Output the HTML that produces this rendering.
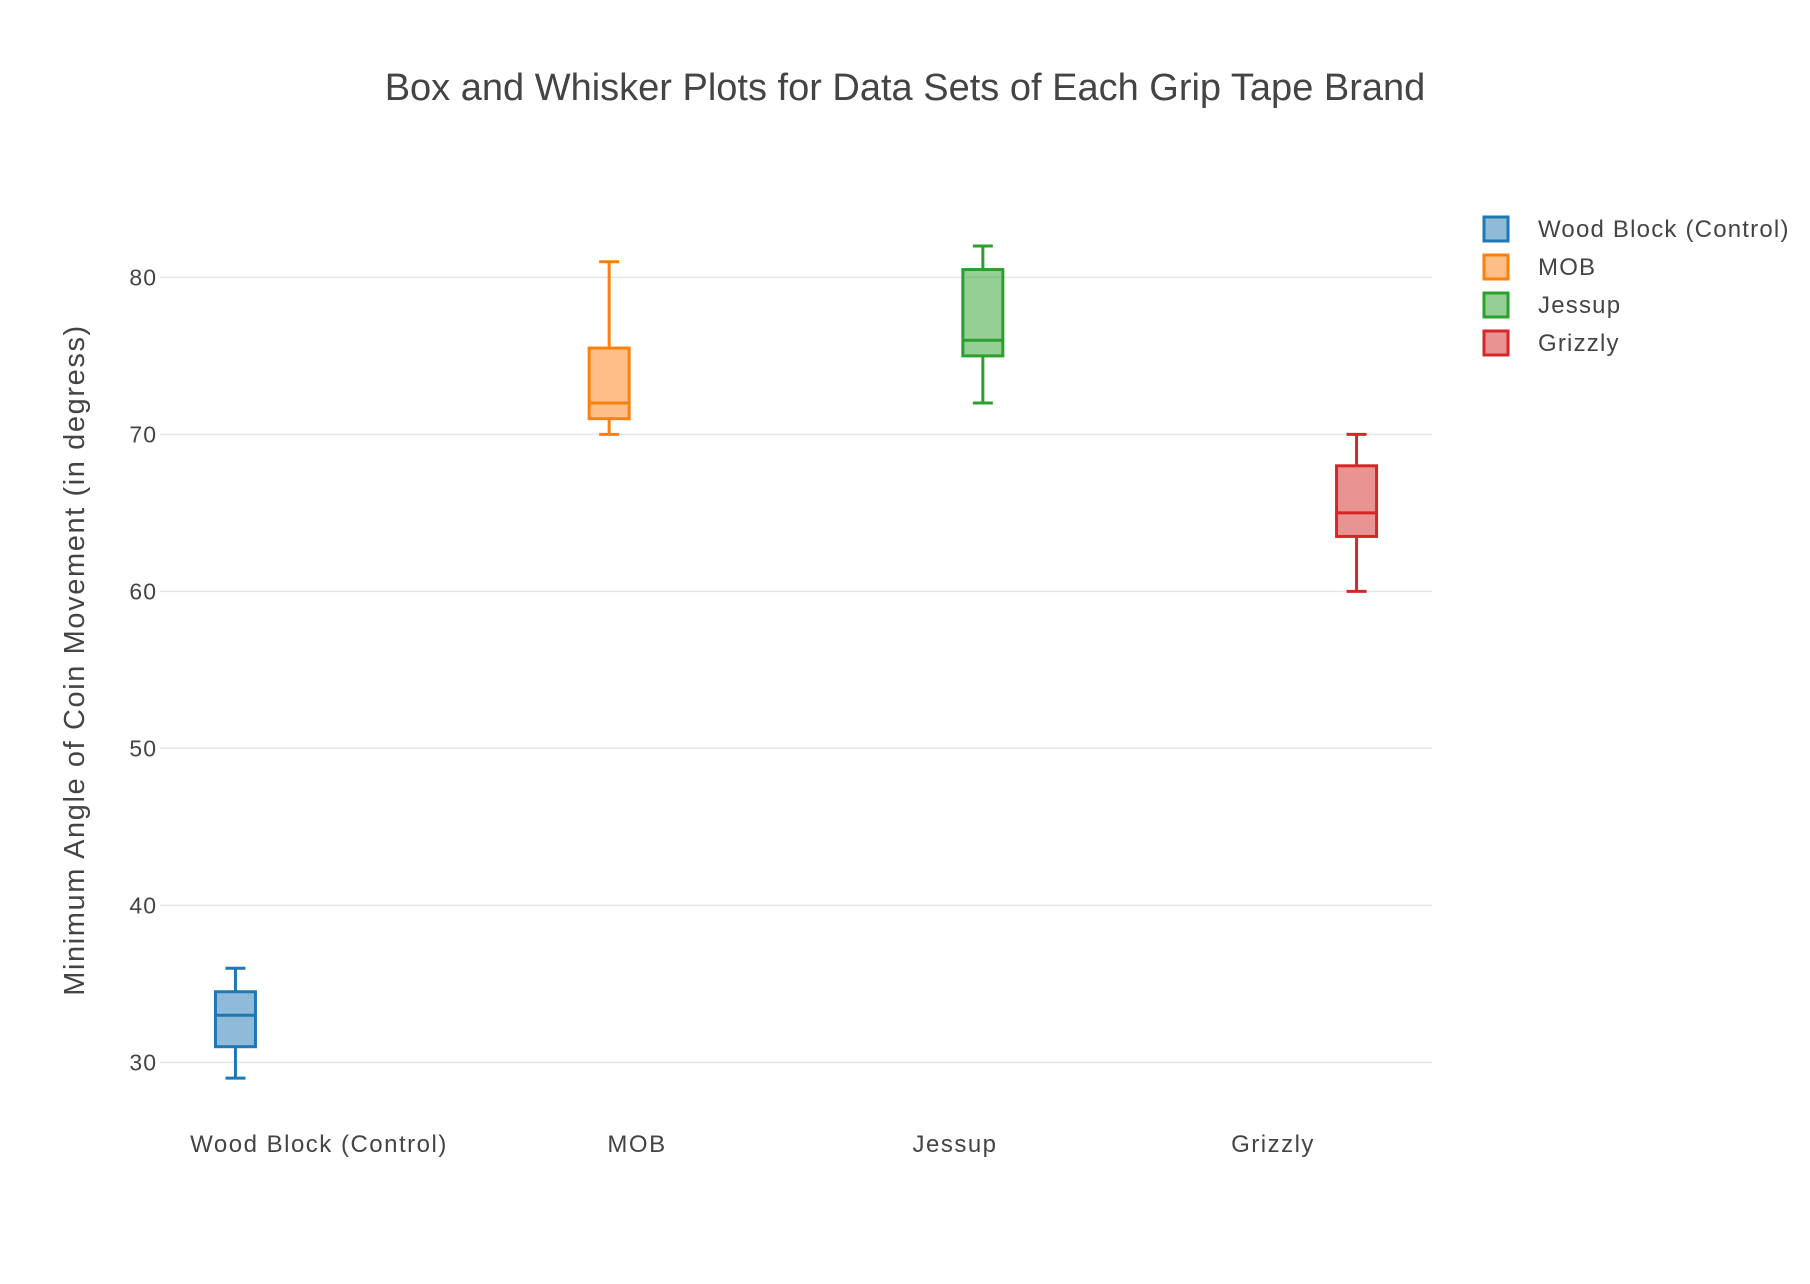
<!DOCTYPE html>
<html><head><meta charset="utf-8"><style>
html,body{margin:0;padding:0;background:#fff;overflow:hidden;}
svg{display:block;font-family:"Liberation Sans","DejaVu Sans",sans-serif;}
</style></head><body>
<svg id="chart" width="1810" height="1284" viewBox="0 0 1810 1284">
<text x="905" y="100" text-anchor="middle" font-size="38" fill="#444">Box and Whisker Plots for Data Sets of Each Grip Tape Brand</text>
<g id="grid"></g>
<g id="boxes"></g>
<g id="xlabels"></g>
<text transform="translate(84,660) rotate(-90)" text-anchor="middle" font-size="29" letter-spacing="1.6" fill="#444">Minimum Angle of Coin Movement (in degress)</text>
<g id="legend"></g>
</svg>
<script>
const categories = ["Wood Block (Control)", "MOB", "Jessup", "Grizzly"];
const mins = [29, 70, 72, 60];
const q1s = [31, 71, 75, 63.5];
const medians = [33, 72, 76, 65];
const q3s = [34.5, 75.5, 80.5, 68];
const maxs = [36, 81, 82, 70];
const yTicks = [30, 40, 50, 60, 70, 80];
const colors = ["#1f77b4", "#ff7f0e", "#2ca02c", "#d62728"];
const fills = ["rgba(31,119,180,0.5)", "rgba(255,127,14,0.5)", "rgba(44,160,44,0.5)", "rgba(214,39,40,0.5)"];

const NS = "http://www.w3.org/2000/svg";
const X0 = 160, X1 = 1432;
const band = (X1 - X0) / categories.length;
function y(v) { return 277.4 + (80 - v) * 15.7; }
function xc(i) { return X0 + band * (i + 0.5); }
function el(tag, attrs, parent) {
  const e = document.createElementNS(NS, tag);
  for (const k in attrs) e.setAttribute(k, attrs[k]);
  parent.appendChild(e);
  return e;
}
const grid = document.getElementById("grid");
yTicks.forEach(t => {
  const l = el("line", {x1: X0, x2: X1, y1: y(t), y2: y(t), stroke: "#e6e6e6", "stroke-width": 1.5}, grid);
  
  
  const tx = el("text", {x: 157, y: y(t) + 8, "text-anchor": "end", "font-size": 23, "letter-spacing": 1, fill: "#444"}, grid);
  tx.textContent = t;
  
  
});
const boxes = document.getElementById("boxes");
const xl = document.getElementById("xlabels");
const bw = 40, cw = 20;
categories.forEach((c, i) => {
  const cx = xc(i) + (i - 1.5) * 55.7;
  const g = el("g", {stroke: colors[i], "stroke-width": 3, fill: "none"}, boxes);
  
  
  el("line", {x1: cx, x2: cx, y1: y(maxs[i]), y2: y(q3s[i])}, g);
  el("line", {x1: cx, x2: cx, y1: y(q1s[i]), y2: y(mins[i])}, g);
  el("line", {x1: cx - cw/2, x2: cx + cw/2, y1: y(maxs[i]), y2: y(maxs[i])}, g);
  el("line", {x1: cx - cw/2, x2: cx + cw/2, y1: y(mins[i]), y2: y(mins[i])}, g);
  el("rect", {x: cx - bw/2, y: y(q3s[i]), width: bw, height: y(q1s[i]) - y(q3s[i]), fill: fills[i]}, g);
  el("line", {x1: cx - bw/2, x2: cx + bw/2, y1: y(medians[i]), y2: y(medians[i])}, g);
  const t = el("text", {x: xc(i), y: 1152, "text-anchor": "middle", "font-size": 24, "letter-spacing": 1.5, fill: "#444"}, xl);
  t.textContent = c;
  
  
});
const lg = document.getElementById("legend");
categories.forEach((c, i) => {
  const cy = 229 + i * 38;
  const g = el("g", {}, lg);
  
  
  el("rect", {x: 1484, y: cy - 12, width: 24, height: 24, fill: fills[i], stroke: colors[i], "stroke-width": 3}, g);
  const t = el("text", {x: 1538, y: cy + 8, "font-size": 24, "letter-spacing": 1.2, fill: "#444"}, g);
  t.textContent = c;
});
</script>
</body></html>
